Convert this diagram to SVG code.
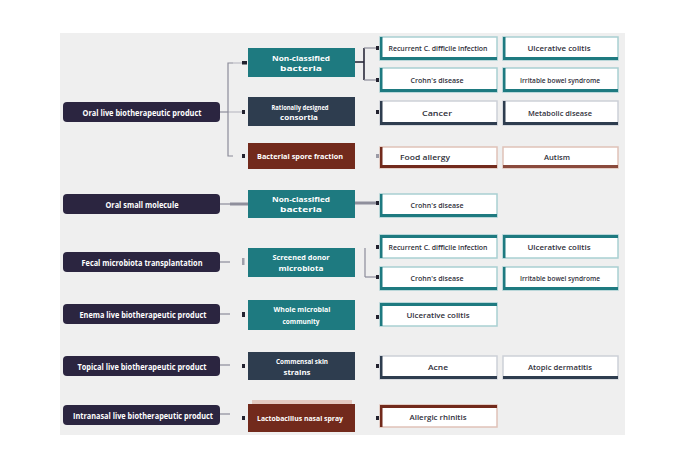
<svg xmlns="http://www.w3.org/2000/svg" width="700" height="451" viewBox="0 0 700 451">
<style>
.bg{fill:#ffffff}
.panel{fill:#efefef}
.lb{fill:#2b2540}
.lt{font-family:"Open Sans","Liberation Sans",sans-serif;font-size:8.5px;font-weight:700;fill:#ffffff;text-anchor:middle;dominant-baseline:central}
.mt{font-family:"Open Sans","Liberation Sans",sans-serif;font-size:7.4px;font-weight:700;fill:#ffffff;text-anchor:middle;dominant-baseline:central}
.rt{font-family:"Open Sans","Liberation Sans",sans-serif;font-size:6.8px;font-weight:600;fill:#2f2f3a;text-anchor:middle;dominant-baseline:central}
.teal{fill:#1e7a80}
.slate{fill:#2e3d4f}
.red{fill:#722a1c}
.rbt{fill:#ffffff;stroke:#a9d0d2;stroke-width:1.5}
.rbs{fill:#ffffff;stroke:#cdd1d8;stroke-width:1.5}
.rbr{fill:#ffffff;stroke:#e0c2b8;stroke-width:1.5}
.ln{stroke:#8b8b99;stroke-width:1.2;fill:none}
.lnd{stroke:#2a2a3a;stroke-width:1.6;fill:none}
.thick{stroke:#8f8f9c;stroke-width:3;fill:none}
.dot{fill:#23222f}
</style>
<rect class="bg" x="0" y="0" width="700" height="451"/>
<rect class="panel" x="60" y="33" width="565" height="402"/>

<g id="connectors">
  <line class="ln" x1="220" y1="112" x2="228" y2="112"/>
  <path class="ln" d="M233 63 H228 V156 H233"/>
  <line class="ln" x1="233" y1="63" x2="242" y2="63" stroke-opacity="0.5"/>
  <line class="ln" x1="228" y1="112" x2="242" y2="112" stroke-opacity="0.5"/>
  <rect class="dot" x="242" y="61" width="5" height="3.5"/>
  <rect class="dot" x="242" y="110" width="3" height="4"/>
  <rect class="dot" x="242" y="154" width="3" height="4"/>
  <line class="ln" x1="220" y1="204" x2="230" y2="204"/>
  <line class="thick" x1="230" y1="204" x2="248" y2="204"/>
  <line class="ln" x1="220" y1="262" x2="230" y2="262"/>
  <rect x="242" y="258" width="2.5" height="7" fill="#a0a0ab"/>
  <line class="ln" x1="220" y1="314" x2="230" y2="314"/>
  <rect class="dot" x="242" y="312" width="3" height="5"/>
  <line class="ln" x1="220" y1="365" x2="230" y2="365"/>
  <rect class="dot" x="242" y="364" width="3" height="4"/>
  <line class="ln" x1="220" y1="414" x2="230" y2="414"/>
  <rect class="dot" x="242" y="416" width="3" height="4"/>

  <line class="lnd" x1="355" y1="62" x2="364" y2="62"/>
  <line class="lnd" x1="364" y1="48" x2="364" y2="80"/>
  <line class="ln" x1="364" y1="48" x2="378" y2="48"/>
  <line class="ln" x1="364" y1="80" x2="378" y2="80"/>
  <rect class="dot" x="376" y="46" width="3" height="4"/>
  <rect class="dot" x="376" y="78" width="3" height="4"/>
  <rect class="dot" x="376" y="110" width="3" height="4"/>
  <rect x="376" y="154" width="3" height="4" fill="#9a9aa6"/>
  <line class="thick" x1="355" y1="203" x2="377" y2="203" stroke-width="2.2"/>
  <rect class="dot" x="376" y="201" width="3" height="4"/>
  <line class="ln" x1="365" y1="248" x2="365" y2="277"/>
  <line class="ln" x1="365" y1="277" x2="377" y2="277"/>
  <rect class="dot" x="376" y="245" width="3" height="4"/>
  <rect class="dot" x="376" y="275" width="3" height="4"/>
  <rect class="dot" x="376" y="315" width="3" height="4"/>
  <rect class="dot" x="376" y="364" width="3" height="4"/>
  <rect class="dot" x="376" y="416" width="3" height="4"/>
</g>

<g id="n-oral-lbp"><rect class="lb" x="63" y="102" width="157" height="20" rx="4"/><text class="lt" x="142" y="112" textLength="119" lengthAdjust="spacingAndGlyphs">Oral live biotherapeutic product</text></g>
<g id="n-oral-sm"><rect class="lb" x="63" y="194" width="157" height="20" rx="4"/><text class="lt" x="142" y="204" textLength="73" lengthAdjust="spacingAndGlyphs">Oral small molecule</text></g>
<g id="n-fmt"><rect class="lb" x="63" y="252" width="157" height="20" rx="4"/><text class="lt" x="142" y="262" textLength="121" lengthAdjust="spacingAndGlyphs">Fecal microbiota transplantation</text></g>
<g id="n-enema"><rect class="lb" x="63" y="304" width="157" height="20" rx="4"/><text class="lt" x="143" y="314" textLength="127" lengthAdjust="spacingAndGlyphs">Enema live biotherapeutic product</text></g>
<g id="n-topical"><rect class="lb" x="63" y="356" width="157" height="20" rx="4"/><text class="lt" x="142" y="366" textLength="129" lengthAdjust="spacingAndGlyphs">Topical live biotherapeutic product</text></g>
<g id="n-intranasal"><rect class="lb" x="63" y="405" width="157" height="20" rx="4"/><text class="lt" x="143" y="415" textLength="140" lengthAdjust="spacingAndGlyphs">Intranasal live biotherapeutic product</text></g>

<g id="m1"><rect class="teal" x="248" y="48" width="107" height="29"/><text class="mt" x="301" y="58" textLength="58" lengthAdjust="spacingAndGlyphs">Non-classified</text><text class="mt" x="301" y="68" textLength="42" lengthAdjust="spacingAndGlyphs">bacteria</text></g>
<g id="m2"><rect class="slate" x="248" y="97" width="107" height="29"/><text class="mt" x="300" y="107" textLength="57" lengthAdjust="spacingAndGlyphs">Rationally designed</text><text class="mt" x="299" y="117" textLength="38" lengthAdjust="spacingAndGlyphs">consortia</text></g>
<g id="m3"><rect class="red" x="248" y="143" width="107" height="26"/><text class="mt" x="300" y="156" textLength="86" lengthAdjust="spacingAndGlyphs">Bacterial spore fraction</text></g>
<g id="m4"><rect class="teal" x="248" y="190" width="107" height="28"/><text class="mt" x="301" y="199" textLength="58" lengthAdjust="spacingAndGlyphs">Non-classified</text><text class="mt" x="301" y="209" textLength="42" lengthAdjust="spacingAndGlyphs">bacteria</text></g>
<g id="m5"><rect class="teal" x="248" y="248" width="107" height="29"/><text class="mt" x="301" y="257" textLength="57" lengthAdjust="spacingAndGlyphs">Screened donor</text><text class="mt" x="301" y="268" textLength="45" lengthAdjust="spacingAndGlyphs">microbiota</text></g>
<g id="m6"><rect class="teal" x="248" y="300" width="107" height="30"/><text class="mt" x="302" y="309" textLength="57" lengthAdjust="spacingAndGlyphs">Whole microbial</text><text class="mt" x="301" y="321" textLength="37" lengthAdjust="spacingAndGlyphs">community</text></g>
<g id="m7"><rect class="slate" x="248" y="352" width="107" height="28"/><text class="mt" x="302" y="361" textLength="52" lengthAdjust="spacingAndGlyphs">Commensal skin</text><text class="mt" x="297" y="372" textLength="27" lengthAdjust="spacingAndGlyphs">strains</text></g>
<g id="m8"><rect x="252" y="400" width="100" height="5" fill="#e3c9c0"/><rect class="red" x="248" y="404" width="107" height="28"/><text class="mt" x="300" y="418" textLength="86" lengthAdjust="spacingAndGlyphs">Lactobacillus nasal spray</text></g>

<g id="r1a"><rect class="rbt" x="380" y="37" width="117" height="23"/><rect class="teal" x="380" y="57" width="117" height="3"/><rect class="teal" x="380" y="37" width="2.5" height="23"/><text class="rt" x="438" y="48.5" textLength="99" lengthAdjust="spacingAndGlyphs">Recurrent C. difficile infection</text></g>
<g id="r1b"><rect class="rbt" x="503" y="37" width="115" height="23"/><rect class="teal" x="503" y="57" width="115" height="3"/><rect class="teal" x="503" y="37" width="2.5" height="23"/><text class="rt" x="559" y="48.5" textLength="63" lengthAdjust="spacingAndGlyphs">Ulcerative colitis</text></g>
<g id="r2a"><rect class="rbt" x="380" y="68" width="117" height="24"/><rect class="teal" x="380" y="89" width="117" height="3"/><rect class="teal" x="380" y="68" width="2.5" height="24"/><text class="rt" x="437" y="80" textLength="53" lengthAdjust="spacingAndGlyphs">Crohn's disease</text></g>
<g id="r2b"><rect class="rbt" x="503" y="68" width="115" height="24"/><rect class="teal" x="503" y="89" width="115" height="3"/><rect class="teal" x="503" y="68" width="2.5" height="24"/><text class="rt" x="560" y="80" textLength="80" lengthAdjust="spacingAndGlyphs">Irritable bowel syndrome</text></g>
<g id="r3a"><rect class="rbs" x="380" y="101" width="117" height="24"/><rect class="slate" x="380" y="122" width="117" height="3"/><rect class="slate" x="380" y="101" width="2.5" height="24"/><text class="rt" x="437" y="113" textLength="30" lengthAdjust="spacingAndGlyphs">Cancer</text></g>
<g id="r3b"><rect class="rbs" x="503" y="101" width="115" height="24"/><rect class="slate" x="503" y="122" width="115" height="3"/><rect class="slate" x="503" y="101" width="2.5" height="24"/><text class="rt" x="560" y="113" textLength="64" lengthAdjust="spacingAndGlyphs">Metabolic disease</text></g>
<g id="r4a"><rect class="rbr" x="380" y="147" width="117" height="21"/><rect class="red" x="380" y="165" width="117" height="3"/><rect class="red" x="380" y="147" width="2.5" height="21"/><text class="rt" x="425" y="157" textLength="50" lengthAdjust="spacingAndGlyphs">Food allergy</text></g>
<g id="r4b"><rect class="rbr" x="503" y="147" width="115" height="21"/><rect x="503" y="165" width="115" height="3" fill="#8a4a3c"/><text class="rt" x="557" y="157" textLength="26" lengthAdjust="spacingAndGlyphs">Autism</text></g>
<g id="r5a"><rect class="rbt" x="380" y="194" width="117" height="23"/><rect class="teal" x="380" y="214" width="117" height="3"/><rect class="teal" x="380" y="194" width="2.5" height="23"/><text class="rt" x="437" y="205" textLength="53" lengthAdjust="spacingAndGlyphs">Crohn's disease</text></g>
<g id="r6a"><rect class="rbt" x="380" y="235" width="117" height="23"/><rect class="teal" x="380" y="235" width="117" height="3"/><rect class="teal" x="380" y="235" width="2.5" height="23"/><text class="rt" x="438" y="247" textLength="99" lengthAdjust="spacingAndGlyphs">Recurrent C. difficile infection</text></g>
<g id="r6b"><rect class="rbt" x="503" y="235" width="115" height="23"/><rect class="teal" x="503" y="235" width="115" height="3"/><rect class="teal" x="503" y="235" width="2.5" height="23"/><text class="rt" x="559" y="247" textLength="63" lengthAdjust="spacingAndGlyphs">Ulcerative colitis</text></g>
<g id="r7a"><rect class="rbt" x="380" y="267" width="117" height="23"/><rect class="teal" x="380" y="287" width="117" height="3"/><rect class="teal" x="380" y="267" width="2.5" height="23"/><text class="rt" x="437" y="278.5" textLength="53" lengthAdjust="spacingAndGlyphs">Crohn's disease</text></g>
<g id="r7b"><rect class="rbt" x="503" y="267" width="115" height="23"/><rect class="teal" x="503" y="287" width="115" height="3"/><rect class="teal" x="503" y="267" width="2.5" height="23"/><text class="rt" x="560" y="278.5" textLength="80" lengthAdjust="spacingAndGlyphs">Irritable bowel syndrome</text></g>
<g id="r8a"><rect class="rbt" x="380" y="303" width="117" height="23"/><rect class="teal" x="380" y="303" width="117" height="3"/><rect class="teal" x="380" y="303" width="2.5" height="23"/><text class="rt" x="438" y="315.5" textLength="63" lengthAdjust="spacingAndGlyphs">Ulcerative colitis</text></g>
<g id="r9a"><rect class="rbs" x="380" y="356" width="117" height="23"/><rect class="slate" x="380" y="376" width="117" height="3"/><rect class="slate" x="380" y="356" width="2.5" height="23"/><text class="rt" x="438" y="367" textLength="20" lengthAdjust="spacingAndGlyphs">Acne</text></g>
<g id="r9b"><rect class="rbs" x="503" y="356" width="115" height="23"/><rect class="slate" x="503" y="376" width="115" height="3"/><text class="rt" x="560" y="367" textLength="64" lengthAdjust="spacingAndGlyphs">Atopic dermatitis</text></g>
<g id="r10a"><rect class="rbr" x="380" y="405" width="117" height="22"/><rect class="red" x="380" y="405" width="117" height="3"/><rect class="red" x="380" y="405" width="2.5" height="22"/><text class="rt" x="438" y="417" textLength="57" lengthAdjust="spacingAndGlyphs">Allergic rhinitis</text></g>
</svg>
